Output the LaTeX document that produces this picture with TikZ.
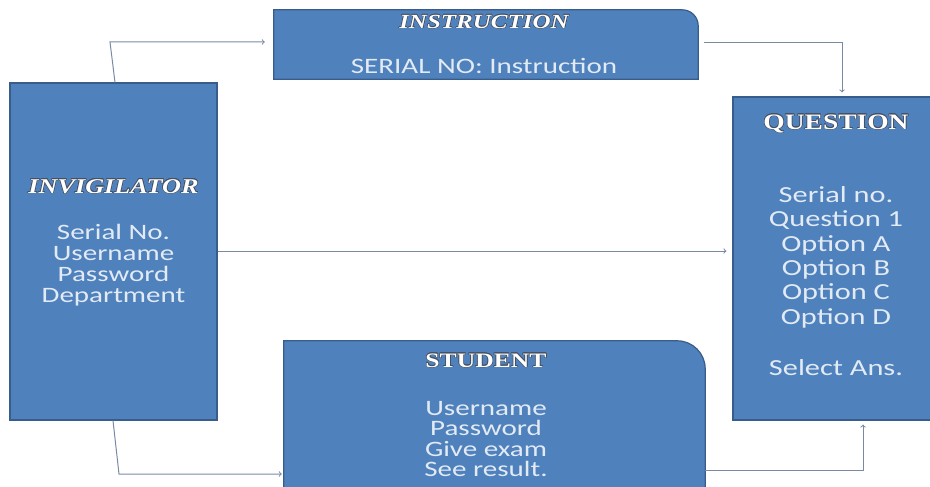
\documentclass[tikz,border=0pt]{standalone}
\usepackage{fontspec}
\usepackage{xcolor}
\usepackage{contour}
\newfontfamily\boxfont[FakeStretch=1.32]{Carlito}
\newfontfamily\headfont[FakeStretch=1.25]{Liberation Serif}
\definecolor{boxfill}{RGB}{79,129,189}
\definecolor{boxedge}{RGB}{56,93,138}
\definecolor{linkgray}{RGB}{122,138,163}
\definecolor{bodytext}{RGB}{226,234,244}
\definecolor{titleedge}{RGB}{70,80,95}
\contourlength{0.5pt}
\newcommand{\boxtitle}[1]{{\headfont\bfseries\color{white}\contour{titleedge}{#1}}}

\begin{document}
\begin{tikzpicture}[x=1pt, y=-1pt,
    box/.style={draw=boxedge, line width=1.2pt, fill=boxfill, inner sep=0pt},
    slot/.style={inner sep=0pt},
    body/.style={text=bodytext, align=center, inner sep=0pt, anchor=north,
        font=\boxfont\fontsize{22}{21}\selectfont},
    link/.style={->, >=to, draw=linkgray, line width=1pt}]
    \useasboundingbox (0,0) rectangle (930,487);
    % plain boxes
    \node[box, minimum width=207pt, minimum height=337pt] (invig) at (113.5,251.5) {};
    \node[box, minimum width=207pt, minimum height=323pt] (quest) at (836.5,258.5) {};
    % boxes with one round corner
    \node[slot, minimum width=424pt, minimum height=69pt] (instr) at (486,44.5) {};
    \node[slot, minimum width=421pt, minimum height=160pt] (stud) at (494.5,421) {};
    \foreach \b/\r in {instr/16, stud/28}
        \filldraw[draw=boxedge, line width=1.2pt, fill=boxfill] (\b.south west) -- (\b.north west)
            -- ([xshift=-\r pt]\b.north east) arc[start angle=90, end angle=0, radius=\r pt]
            -- (\b.south east) -- cycle;
    % texts
    \node[body] (invigtxt) at (113.5,179) {\boxtitle{\itshape\fontsize{21}{21}\selectfont INVIGILATOR}\\[25pt]
        Serial No.\\ Username\\ Password\\ Department};
    \node[body] (instrtxt) at (484,15) {\boxtitle{\itshape\fontsize{20}{20}\selectfont INSTRUCTION}\\[24pt]
        SERIAL NO: Instruction};
    \node[body, font=\boxfont\fontsize{23}{24.4}\selectfont] (questtxt) at (836,114.5)
        {\boxtitle{\fontsize{22}{22}\selectfont QUESTION}\\[48.6pt]
        Serial no.\\ Question 1\\ Option A\\ Option B\\ Option C\\ Option D\\[26.6pt] Select Ans.};
    \node[body, font=\boxfont\fontsize{22}{20.5}\selectfont] (studtxt) at (486,353.5)
        {\boxtitle{\fontsize{20.5}{20.5}\selectfont STUDENT}\\[27.5pt]
        Username\\ Password\\ Give exam\\ See result.};
    % links
    \coordinate (inA) at (110,42);
    \coordinate (outA) at (842,43);
    \coordinate (inB) at (119,474);
    \coordinate (outB) at (863,470);
    \draw[link, shorten >=9pt] (115,0 |- invig.north) -- (inA) -- (inA -| instr.west);
    \draw[link, shorten <=6pt, shorten >=4pt] (outA -| instr.east) -- (outA) -- (outA |- quest.north);
    \draw[link, shorten >=6pt] (invig.east |- 0,251) -- (quest.west |- 0,251);
    \draw[link, shorten >=2pt] (113,0 |- invig.south) -- (inB) -- (inB -| stud.west);
    \draw[link, shorten >=4pt] (outB -| stud.east) -- (outB) -- (outB |- quest.south);
\end{tikzpicture}
\end{document}
